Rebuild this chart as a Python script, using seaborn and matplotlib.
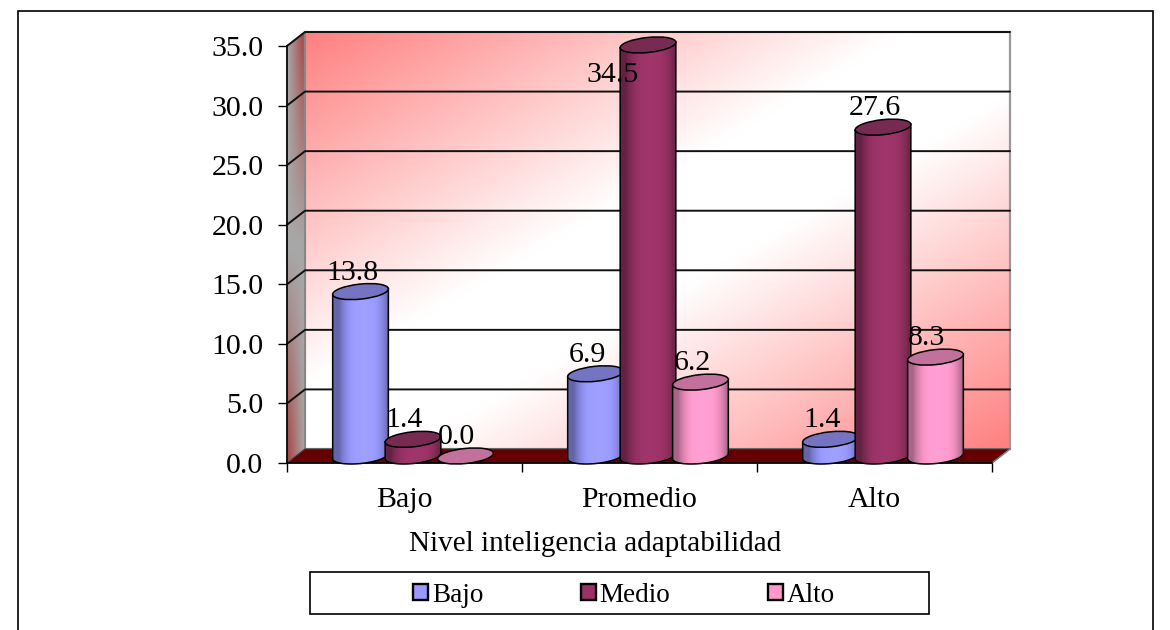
import numpy as np
import pandas as pd
import seaborn as sns
import matplotlib
matplotlib.use('Agg')
import matplotlib.pyplot as plt
from matplotlib.patches import Ellipse, PathPatch, Polygon, Rectangle, Patch
from matplotlib.path import Path
from matplotlib.transforms import IdentityTransform, ScaledTranslation
from matplotlib.colors import to_rgb

categories = ['Bajo', 'Promedio', 'Alto']
grupos = ['Bajo', 'Medio', 'Alto']
bajo = [13.8, 6.9, 1.4]
medio = [1.4, 34.5, 27.6]
alto = [0.0, 6.2, 8.3]
yticks = [0, 5, 10, 15, 20, 25, 30, 35]

body_colors = ['#9999ff', '#993366', '#ff99cc']
top_colors = ['#7474c2', '#772a52', '#c2709c']

W, H = 1170, 630
DEPTH_X, DEPTH_Y = 18, 14
FS = 21.5


def img_y(y):
    return H - y


sns.set_theme(style='ticks')
plt.rcParams['font.family'] = ['Liberation Serif', 'DejaVu Serif']

fig = plt.figure(figsize=(W / 100, H / 100), dpi=100, facecolor='white')
ax = fig.add_axes([287 / W, (H - 463) / H, 705 / W, 417 / H])
ax.patch.set_visible(False)

df = pd.DataFrame({
    'nivel': categories * 3,
    'grupo': np.repeat(grupos, 3),
    'pct': bajo + medio + alto,
})
sns.barplot(data=df, x='nivel', y='pct', hue='grupo', order=categories, hue_order=grupos,
            palette=body_colors, saturation=1, width=0.67, legend=False, ax=ax)
bars = list(ax.patches)

ax.set_xlim(-0.5, 2.5)
ax.set_ylim(0, 35)
ax.set_autoscale_on(False)

ax.set_yticks(yticks, [f'{v:.1f}' for v in yticks])
ax.set_xticks([-0.5, 0.5, 1.5, 2.5], ['', '', '', ''])
ax.set_xticks([0, 1, 2], categories, minor=True)
ax.tick_params(axis='y', labelsize=FS, length=6.5, width=1, color='black', pad=10.5, labelcolor='black')
ax.tick_params(axis='x', which='major', length=6.5, width=1, color='black')
ax.tick_params(axis='x', which='minor', length=0, labelsize=FS, pad=17, labelcolor='black')
ax.set_ylabel('')
ax.set_xlabel('Nivel inteligencia adaptabilidad', fontsize=21, color='black')
ax.xaxis.set_label_coords((595 - 287) / 705, (463 - 531) / 417)
sns.despine(ax=ax)
for s in ['left', 'bottom']:
    ax.spines[s].set_color('black')
    ax.spines[s].set_linewidth(1.2)
    ax.spines[s].set_zorder(2.5)

ident = IdentityTransform()


def fill(rgb, box, clip, z):
    # box is x0, x1, y0, y1 in display pixels, first row of rgb at y1
    im = ax.imshow(rgb, extent=box, transform=ident, aspect='auto', origin='upper',
                   interpolation='bilinear', zorder=z)
    im.set_clip_path(clip)
    if not isinstance(clip, Rectangle):
        im.set_clip_box(fig.bbox)
    return im


def mix(a, b, t):
    return np.asarray(a)[None, None, :] * (1 - t[..., None]) + np.asarray(b)[None, None, :] * t[..., None]


# back wall
wx0, wx1 = 287 + DEPTH_X, 992 + DEPTH_X
wy0, wy1 = img_y(449), img_y(32)
u, v = np.meshgrid(np.linspace(0, 1, 200), np.linspace(0, 1, 120))
t = np.clip((np.abs(u + v - 1) - 0.15) / 0.85, 0, 1)
wall_clip = Rectangle((wx0, wy0), wx1 - wx0, wy1 - wy0, transform=ident, fc='none', ec='#999999', lw=1.6, zorder=1.2, clip_on=False)
ax.add_patch(wall_clip)
fill(mix(to_rgb('white'), to_rgb('#ff8080'), t), (wx0, wx1, wy0, wy1), wall_clip, 1)

# left wall
left_pts = [(287, img_y(463)), (305, img_y(449)), (305, img_y(32)), (287, img_y(46))]
left = Polygon(left_pts, closed=True, transform=ident, fc='none', ec='#808080', lw=1, zorder=1.2, clip_on=False)
ax.add_patch(left)
u, v = np.meshgrid(np.linspace(0, 1, 20), np.linspace(0, 1, 120))
red = np.clip(np.where(v < 0.5, u * (0.5 - v) * 2.2, (1 - u) * (v - 0.5) * 2.2), 0, 1)
fill(mix(to_rgb('#a8a8a8'), to_rgb('#a84a4a'), red), (287, 305, img_y(463), img_y(32)), left, 1)

# floor
ax.add_patch(Polygon([(287, img_y(463)), (305, img_y(449)), (1010, img_y(449)), (992, img_y(463))],
                     closed=True, transform=ident, fc='#660000', ec='#404040', lw=0.8, zorder=1.5, clip_on=False))

# grid on the walls, from the real tick values
for val in yticks[1:]:
    _, py = ax.transData.transform((0, val))
    ax.plot([287, 305, 1010], [py, py + DEPTH_Y, py + DEPTH_Y], transform=ident, color='#111111', lw=1.4,
            zorder=1.4, clip_on=False)

# right edge of the floor
ax.plot([992, 1010], [img_y(463), img_y(449)], transform=ident, color='#808080', lw=1, zorder=1.6, clip_on=False)

shift = ScaledTranslation(8.5 / 100, 7 / 100, fig.dpi_scale_trans)
theta = np.deg2rad(6)
EH = 15


def cylinder(bar, body, top, z):
    xc = bar.get_x() + bar.get_width() / 2
    val = bar.get_height()
    (px, py0) = (ax.transData + shift).transform((xc, 0))
    (_, py1) = (ax.transData + shift).transform((xc, val))
    a = 28
    b = EH / 2
    c, s = np.cos(theta), np.sin(theta)

    # seaborn's bar stays as the core of the cylinder
    bw = 0.8 * 2 * a / 235
    bar.set_x(xc - bw / 2)
    bar.set_width(bw)
    bar.set_transform(ax.transData + shift)
    bar.set_clip_on(False)
    bar.set_linewidth(0)
    bar.set_zorder(z)

    if val > 0:
        ang = np.linspace(np.pi, 2 * np.pi, 40)
        ex = a * np.cos(ang)
        ey = b * np.sin(ang)
        xs = px + ex * c - ey * s
        ys = py0 + ex * s + ey * c
        verts = list(zip(xs, ys))
        verts.append((px + a * c, py1 + a * s))
        verts.append((px - a * c, py1 - a * s))
        verts.append(verts[0])
        shape = PathPatch(Path(verts), transform=ident, fc='none', ec='black', lw=1.1, zorder=z + 0.2, clip_on=False)
        ax.add_patch(shape)
        g = np.linspace(0, 1, 64)
        shade = np.clip(np.abs(g - 0.55) / 0.45, 0, 1) ** 3 * 0.38
        rgb = np.clip(np.array(to_rgb(body))[None, None, :] * (1.04 - shade[None, :, None]), 0, 1)
        fill(rgb, (px - a, px + a, py0 - b - a * s, py1 + a * s + b), shape, z + 0.1)

    ax.add_patch(Ellipse((px, py1), 2 * a, EH, angle=6, transform=ident, fc=top, ec='black', lw=1.1,
                         zorder=z + 0.3, clip_on=False))


n = len(categories)
order = sorted(range(len(bars)), key=lambda i: (i % n, i // n))
for k, i in enumerate(order):
    h = i // n
    cylinder(bars[i], body_colors[h], top_colors[h], 3 + k)

# data labels sit on the front plane, above each value
for i, bar in enumerate(bars):
    val = bar.get_height()
    xc = bar.get_x() + bar.get_width() / 2
    dx, dy = (-27, -23) if val == 34.5 else (0, 26)
    ax.annotate(f'{val:.1f}', (xc, val), xytext=(dx, dy), textcoords='offset pixels', ha='center', va='center',
                fontsize=FS, color='black', zorder=30, annotation_clip=False)

# legend box and entries
box = Rectangle((310 / W, (H - 614) / H), 619 / W, 42 / H, transform=fig.transFigure, fc='white', ec='black', lw=1.2,
                zorder=-1)
fig.add_artist(box)
handles = [Patch(facecolor=c, edgecolor='black', linewidth=1.7, label=g) for c, g in zip(body_colors, grupos)]
leg = ax.legend(handles=handles, ncol=3, loc='center', bbox_to_anchor=(624 / W, (H - 595) / H),
                bbox_transform=fig.transFigure, frameon=False, fontsize=19.5, handlelength=0.55, handleheight=0.55,
                handletextpad=0.15, columnspacing=3.6, labelcolor='black')
leg.set_zorder(40)

# outer frame, runs off the bottom of the picture
fig.add_artist(Rectangle((18 / W, -0.05), (1153 - 18) / W, (H - 11) / H + 0.05, transform=fig.transFigure,
                         fc='none', ec='black', lw=1.2, zorder=-2))

fig.savefig('out.png', dpi=100)
